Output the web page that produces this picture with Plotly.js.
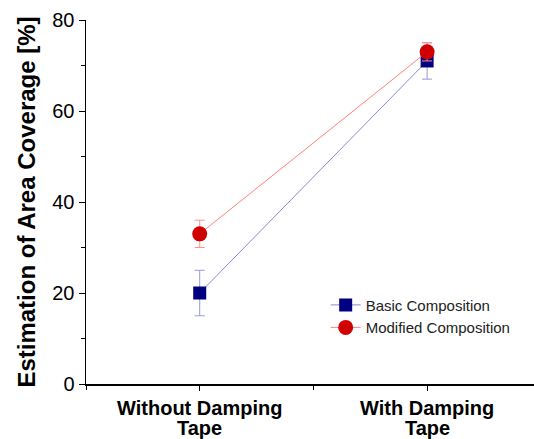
<!DOCTYPE html>
<html>
<head>
<meta charset="utf-8">
<script src="https://cdn.plot.ly/plotly-3.0.1.min.js"></script>
<style>html,body{margin:0;padding:0;background:#fff;}#chart{width:534px;height:439px;}</style>
</head>
<body>
<div id="chart"></div>
<script>
const categoryLine1 = ["Without Damping", "With Damping"];
const categoryLine2 = ["Tape", "Tape"];
const catPos = [0, 1];
const basicValues = [20, 71];
const basicErrors = [5, 4];
const modifiedValues = [33, 73];
const modifiedErrors = [3, 2];
const yTicks = [0, 20, 40, 60, 80];

const FONT = "Arial, Liberation Sans, sans-serif";

const traces = [
  {
    x: catPos, y: basicValues, name: "Basic Composition", type: "scatter", mode: "lines+markers",
    line: {color: "#8888dd", width: 1},
    marker: {symbol: "square", size: 13, color: "#000080"},
    error_y: {type: "data", array: basicErrors, visible: true, color: "#9999dd", thickness: 1, width: 5}
  },
  {
    x: catPos, y: modifiedValues, name: "Modified Composition", type: "scatter", mode: "lines+markers",
    line: {color: "#ff8080", width: 1},
    marker: {symbol: "circle", size: 15, color: "#d00000"},
    error_y: {type: "data", array: modifiedErrors, visible: true, color: "#ff9090", thickness: 1, width: 5}
  }
];

const layout = {
  width: 534, height: 439,
  margin: {l: 86, r: 0, t: 20, b: 55},
  paper_bgcolor: "#fff", plot_bgcolor: "#fff",
  showlegend: true,
  legend: {x: 0.535, y: 0.262, xanchor: "left", yanchor: "top", bgcolor: "rgba(0,0,0,0)",
    font: {family: FONT, size: 15, color: "#222"}, tracegroupgap: 0, itemwidth: 30},
  xaxis: {
    range: [-0.5, 1.47], showgrid: false, zeroline: false,
    showline: true, linecolor: "#000", linewidth: 1.5,
    tickmode: "array", tickvals: catPos, ticktext: categoryLine1.map(c => "<b>" + c + "</b>"),
    ticks: "outside", ticklen: 5, tickcolor: "#000", tickwidth: 1,
    tickfont: {family: FONT, size: 20, color: "#000"},
    minor: {tickmode: "linear", tick0: 0.5, dtick: 1, ticks: "outside", ticklen: 4, tickcolor: "#000", showgrid: false}
  },
  yaxis: {
    range: [0, 80], showgrid: false, zeroline: false,
    showline: true, linecolor: "#000", linewidth: 1.5,
    tickmode: "array", tickvals: yTicks,
    ticks: "outside", ticklen: 6, tickcolor: "#000", tickwidth: 1,
    tickfont: {family: FONT, size: 20, color: "#000"},
    minor: {tickmode: "linear", tick0: 10, dtick: 20, ticks: "outside", ticklen: 4, tickcolor: "#000", showgrid: false},
    title: {text: "<b>Estimation of Area Coverage [%]</b>", standoff: 10,
      font: {family: FONT, size: 24, color: "#000"}}
  },
  annotations: catPos.map((p, i) => ({
    x: p, xref: "x", y: 0, yref: "paper", yanchor: "top", xanchor: "center",
    yshift: -32, showarrow: false, borderpad: 0,
    text: "<b>" + categoryLine2[i] + "</b>",
    font: {family: FONT, size: 20, color: "#000"}
  }))
};

Plotly.newPlot("chart", traces, layout, {displayModeBar: false, staticPlot: true});
</script>
</body>
</html>
